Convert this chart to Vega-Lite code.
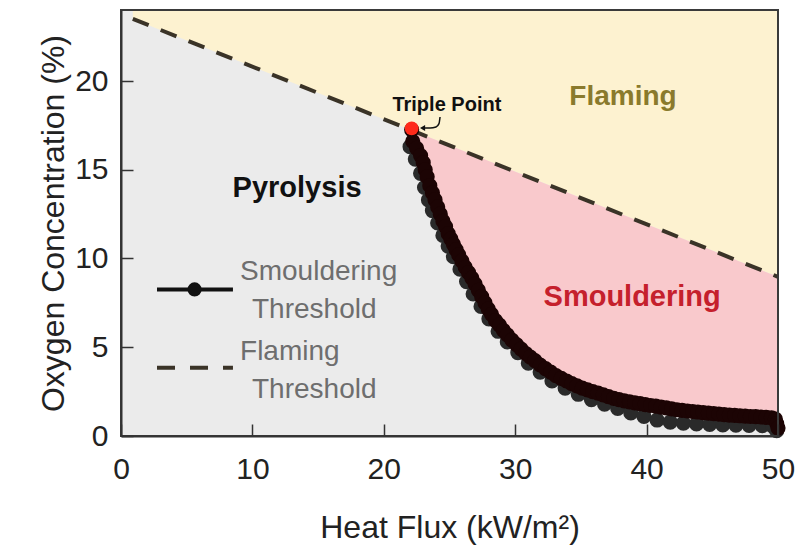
{
  "$schema": "https://vega.github.io/schema/vega-lite/v6.json",
  "width": 657,
  "height": 426,
  "autosize": {"type": "none"},
  "padding": {"left": 121, "top": 10, "right": 24, "bottom": 114},
  "config": {
    "font": "Liberation Sans",
    "view": {"fill": "#ebebeb", "stroke": null}
  },
  "datasets": {
    "flaming": [{"x": 0.9, "y": 23.5}, {"x": 50, "y": 8.97}],
    "pinkzone": [{"x": 22.4, "y": 17.14}, {"x": 50, "y": 8.97}],
    "boundary": [
      {"x": 22.12, "y": 17.25}, {"x": 22.2, "y": 16.6}, {"x": 22.5, "y": 16.2}, {"x": 22.8, "y": 15.8},
      {"x": 23.0, "y": 15.4}, {"x": 23.15, "y": 15.0}, {"x": 23.3, "y": 14.6}, {"x": 23.5, "y": 14.1},
      {"x": 23.7, "y": 13.7}, {"x": 23.9, "y": 13.3}, {"x": 24.1, "y": 12.9}, {"x": 24.3, "y": 12.5},
      {"x": 24.5, "y": 12.1}, {"x": 24.7, "y": 11.8}, {"x": 24.9, "y": 11.4}, {"x": 25.1, "y": 11.1},
      {"x": 25.3, "y": 10.8}, {"x": 25.5, "y": 10.5}, {"x": 25.7, "y": 10.2}, {"x": 25.95, "y": 9.85},
      {"x": 26.2, "y": 9.5}, {"x": 26.45, "y": 9.2}, {"x": 26.7, "y": 8.9}, {"x": 26.95, "y": 8.55},
      {"x": 27.2, "y": 8.2}, {"x": 27.45, "y": 7.85}, {"x": 27.7, "y": 7.5}, {"x": 27.95, "y": 7.15},
      {"x": 28.2, "y": 6.85}, {"x": 28.5, "y": 6.5}, {"x": 28.8, "y": 6.25}, {"x": 29.1, "y": 5.95},
      {"x": 29.4, "y": 5.7}, {"x": 29.75, "y": 5.4}, {"x": 30.1, "y": 5.15}, {"x": 30.45, "y": 4.9},
      {"x": 30.8, "y": 4.65}, {"x": 31.15, "y": 4.45}, {"x": 31.5, "y": 4.25}, {"x": 31.9, "y": 4.0},
      {"x": 32.3, "y": 3.8}, {"x": 32.7, "y": 3.6}, {"x": 33.1, "y": 3.4}, {"x": 33.5, "y": 3.25},
      {"x": 33.9, "y": 3.1}, {"x": 34.3, "y": 2.95}, {"x": 34.7, "y": 2.82}, {"x": 35.1, "y": 2.7},
      {"x": 35.5, "y": 2.6}, {"x": 35.9, "y": 2.5}, {"x": 36.3, "y": 2.42}, {"x": 36.7, "y": 2.32},
      {"x": 37.1, "y": 2.22}, {"x": 37.5, "y": 2.12}, {"x": 37.9, "y": 2.05}, {"x": 38.3, "y": 1.98},
      {"x": 38.7, "y": 1.92}, {"x": 39.1, "y": 1.87}, {"x": 39.5, "y": 1.82}, {"x": 39.9, "y": 1.77},
      {"x": 40.3, "y": 1.72}, {"x": 40.7, "y": 1.68}, {"x": 41.1, "y": 1.63}, {"x": 41.5, "y": 1.58},
      {"x": 41.9, "y": 1.53}, {"x": 42.3, "y": 1.48}, {"x": 42.7, "y": 1.44}, {"x": 43.1, "y": 1.41},
      {"x": 43.5, "y": 1.38}, {"x": 43.9, "y": 1.35}, {"x": 44.3, "y": 1.32}, {"x": 44.7, "y": 1.29},
      {"x": 45.1, "y": 1.26}, {"x": 45.5, "y": 1.23}, {"x": 45.9, "y": 1.2}, {"x": 46.3, "y": 1.18},
      {"x": 46.7, "y": 1.16}, {"x": 47.1, "y": 1.14}, {"x": 47.5, "y": 1.12}, {"x": 47.9, "y": 1.1},
      {"x": 48.3, "y": 1.09}, {"x": 48.7, "y": 1.07}, {"x": 49.1, "y": 1.05}, {"x": 49.5, "y": 1.03},
      {"x": 49.8, "y": 0.95}, {"x": 49.9, "y": 0.7}, {"x": 50.0, "y": 0.45}
    ],
    "shadow": [
      {"x": 22.0, "y": 16.3}, {"x": 22.4, "y": 15.6}, {"x": 22.8, "y": 14.8}, {"x": 23.1, "y": 14.0},
      {"x": 23.4, "y": 13.3}, {"x": 23.7, "y": 12.7}, {"x": 24.1, "y": 12.0}, {"x": 24.5, "y": 11.3},
      {"x": 24.9, "y": 10.7}, {"x": 25.3, "y": 10.1}, {"x": 25.8, "y": 9.4}, {"x": 26.3, "y": 8.7},
      {"x": 26.8, "y": 8.0}, {"x": 27.4, "y": 7.3}, {"x": 28.0, "y": 6.6}, {"x": 28.7, "y": 5.9},
      {"x": 29.4, "y": 5.3}, {"x": 30.2, "y": 4.7}, {"x": 31.0, "y": 4.1}, {"x": 31.9, "y": 3.6},
      {"x": 32.8, "y": 3.1}, {"x": 33.8, "y": 2.7}, {"x": 34.8, "y": 2.35}, {"x": 35.8, "y": 2.05},
      {"x": 36.8, "y": 1.8}, {"x": 37.8, "y": 1.55}, {"x": 38.8, "y": 1.3}, {"x": 39.8, "y": 1.1},
      {"x": 40.8, "y": 0.9}, {"x": 41.8, "y": 0.78}, {"x": 42.8, "y": 0.72}, {"x": 43.8, "y": 0.68},
      {"x": 44.8, "y": 0.65}, {"x": 45.8, "y": 0.63}, {"x": 46.8, "y": 0.61}, {"x": 47.8, "y": 0.6},
      {"x": 48.8, "y": 0.58}, {"x": 49.6, "y": 0.55}, {"x": 49.9, "y": 0.3}
    ]
  },
  "layer": [
    {
      "data": {"name": "flaming"},
      "mark": {"type": "area", "fill": "#fdf2d0"},
      "encoding": {
        "x": {
          "field": "x", "type": "quantitative",
          "scale": {"domain": [0, 50], "nice": false, "zero": false},
          "axis": {
            "title": "Heat Flux (kW/m²)", "values": [0, 10, 20, 30, 40, 50], "format": "d",
            "grid": false, "zindex": 2,
            "domainColor": "#333333", "domainWidth": 2,
            "tickColor": "#333333", "tickWidth": 1.5, "tickSize": -12,
            "labelFontSize": 30, "labelColor": "#222222", "labelPadding": 30, "labelFlush": false,
            "titleFontSize": 32, "titleFontWeight": "normal", "titleColor": "#222222",
            "titleBaseline": "alphabetic", "titleY": 101
          }
        },
        "y": {
          "field": "y", "type": "quantitative",
          "scale": {"domain": [0, 24], "nice": false, "zero": false},
          "axis": {
            "title": "Oxygen Concentration (%)", "values": [0, 5, 10, 15, 20], "format": "d",
            "grid": false, "zindex": 2,
            "domainColor": "#333333", "domainWidth": 2,
            "tickColor": "#333333", "tickWidth": 1.5, "tickSize": -12,
            "labelFontSize": 30, "labelColor": "#222222", "labelPadding": 25, "labelFlush": false,
            "titleFontSize": 32, "titleFontWeight": "normal", "titleColor": "#222222",
            "titleBaseline": "alphabetic", "titleX": -58
          }
        },
        "y2": {"datum": 24}
      }
    },
    {
      "data": {"name": "pinkzone"},
      "mark": {"type": "area", "fill": "#f9c9cc"},
      "encoding": {
        "x": {"field": "x", "type": "quantitative"},
        "y": {"field": "y", "type": "quantitative"},
        "y2": {"datum": 0}
      }
    },
    {
      "data": {"name": "boundary"},
      "mark": {"type": "area", "fill": "#ebebeb"},
      "encoding": {
        "x": {"field": "x", "type": "quantitative"},
        "y": {"field": "y", "type": "quantitative"},
        "y2": {"datum": 0}
      }
    },
    {
      "data": {"name": "flaming"},
      "mark": {"type": "line", "color": "#3a3327", "strokeWidth": 4, "strokeDash": [17, 13]},
      "encoding": {
        "x": {"field": "x", "type": "quantitative"},
        "y": {"field": "y", "type": "quantitative"}
      }
    },
    {
      "data": {"name": "shadow"},
      "mark": {"type": "point", "shape": "circle", "filled": true, "size": 230, "color": "#2a2a2a", "opacity": 1, "clip": false},
      "encoding": {
        "x": {"field": "x", "type": "quantitative"},
        "y": {"field": "y", "type": "quantitative"}
      }
    },
    {
      "data": {"name": "boundary"},
      "mark": {"type": "point", "shape": "circle", "filled": true, "size": 230, "color": "#1c0404", "opacity": 1, "clip": false},
      "encoding": {
        "x": {"field": "x", "type": "quantitative"},
        "y": {"field": "y", "type": "quantitative"}
      }
    },
    {
      "data": {"values": [{"x": 22.12, "y": 17.33}]},
      "mark": {"type": "point", "shape": "circle", "filled": true, "size": 190, "color": "#ff2a1a", "opacity": 1},
      "encoding": {
        "x": {"field": "x", "type": "quantitative"},
        "y": {"field": "y", "type": "quantitative"}
      }
    },
    {
      "data": {"values": [{"x": 24.28, "y": 17.97}, {"x": 24.2, "y": 17.6}, {"x": 23.97, "y": 17.41}, {"x": 23.52, "y": 17.35}, {"x": 23.1, "y": 17.35}]},
      "mark": {"type": "line", "color": "#111111", "strokeWidth": 1.5, "interpolate": "monotone"},
      "encoding": {
        "x": {"field": "x", "type": "quantitative"},
        "y": {"field": "y", "type": "quantitative"}
      }
    },
    {
      "data": {"values": [{"x": 22.95, "y": 17.35}]},
      "mark": {"type": "point", "shape": "triangle-left", "filled": true, "size": 35, "color": "#111111", "opacity": 1},
      "encoding": {
        "x": {"field": "x", "type": "quantitative"},
        "y": {"field": "y", "type": "quantitative"}
      }
    },
    {
      "data": {"values": [{"x": 24.8, "y": 18.65, "label": "Triple Point"}]},
      "mark": {"type": "text", "fontSize": 20, "fontWeight": "bold", "color": "#111111", "align": "center", "baseline": "middle"},
      "encoding": {
        "x": {"field": "x", "type": "quantitative"},
        "y": {"field": "y", "type": "quantitative"},
        "text": {"field": "label"}
      }
    },
    {
      "data": {"values": [{"x": 38.2, "y": 19.1, "label": "Flaming"}]},
      "mark": {"type": "text", "fontSize": 28, "fontWeight": "bold", "color": "#8a7a2c", "align": "center", "baseline": "middle"},
      "encoding": {
        "x": {"field": "x", "type": "quantitative"},
        "y": {"field": "y", "type": "quantitative"},
        "text": {"field": "label"}
      }
    },
    {
      "data": {"values": [{"x": 13.4, "y": 14.0, "label": "Pyrolysis"}]},
      "mark": {"type": "text", "fontSize": 29, "fontWeight": "bold", "color": "#111111", "align": "center", "baseline": "middle"},
      "encoding": {
        "x": {"field": "x", "type": "quantitative"},
        "y": {"field": "y", "type": "quantitative"},
        "text": {"field": "label"}
      }
    },
    {
      "data": {"values": [{"x": 38.9, "y": 7.83, "label": "Smouldering"}]},
      "mark": {"type": "text", "fontSize": 29, "fontWeight": "bold", "color": "#c5202c", "align": "center", "baseline": "middle"},
      "encoding": {
        "x": {"field": "x", "type": "quantitative"},
        "y": {"field": "y", "type": "quantitative"},
        "text": {"field": "label"}
      }
    },
    {
      "data": {"values": [
        {"x": 9.06, "y": 9.24, "label": "Smouldering"},
        {"x": 9.97, "y": 7.1, "label": "Threshold"},
        {"x": 9.06, "y": 4.73, "label": "Flaming"},
        {"x": 9.97, "y": 2.59, "label": "Threshold"}
      ]},
      "mark": {"type": "text", "fontSize": 28, "color": "#6e6e6e", "align": "left", "baseline": "middle"},
      "encoding": {
        "x": {"field": "x", "type": "quantitative"},
        "y": {"field": "y", "type": "quantitative"},
        "text": {"field": "label"}
      }
    },
    {
      "data": {"values": [{"x": 2.74, "y": 8.26}, {"x": 8.52, "y": 8.26}]},
      "mark": {"type": "line", "color": "#111111", "strokeWidth": 4},
      "encoding": {
        "x": {"field": "x", "type": "quantitative"},
        "y": {"field": "y", "type": "quantitative"}
      }
    },
    {
      "data": {"values": [{"x": 5.6, "y": 8.26}]},
      "mark": {"type": "point", "shape": "circle", "filled": true, "size": 200, "color": "#111111", "opacity": 1},
      "encoding": {
        "x": {"field": "x", "type": "quantitative"},
        "y": {"field": "y", "type": "quantitative"}
      }
    },
    {
      "data": {"values": [{"x": 2.74, "y": 3.85}, {"x": 8.52, "y": 3.85}]},
      "mark": {"type": "line", "color": "#3a3327", "strokeWidth": 4, "strokeDash": [18, 15]},
      "encoding": {
        "x": {"field": "x", "type": "quantitative"},
        "y": {"field": "y", "type": "quantitative"}
      }
    },
    {
      "data": {"values": [{"x0": 0, "x1": 50, "y0": 0, "y1": 24}]},
      "mark": {"type": "rect", "fill": null, "fillOpacity": 0, "stroke": "#3a3a3a", "strokeWidth": 2},
      "encoding": {
        "x": {"field": "x0", "type": "quantitative"},
        "x2": {"field": "x1"},
        "y": {"field": "y0", "type": "quantitative"},
        "y2": {"field": "y1"}
      }
    }
  ]
}
